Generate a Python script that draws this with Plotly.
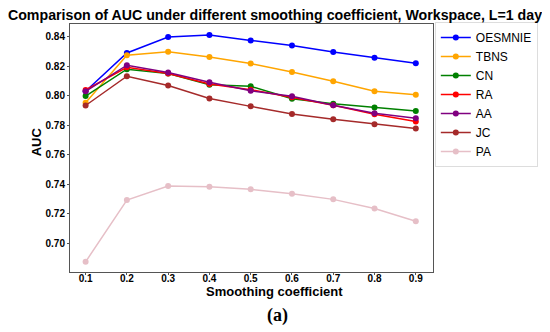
import plotly.graph_objects as go

x_vals = [0.1, 0.2, 0.3, 0.4, 0.5, 0.6, 0.7, 0.8, 0.9]
x_labels = ["0.1", "0.2", "0.3", "0.4", "0.5", "0.6", "0.7", "0.8", "0.9"]

oesmnie = [0.8030, 0.8290, 0.8398, 0.8412, 0.8375, 0.8341, 0.8296, 0.8257, 0.8220]
tbns = [0.7952, 0.8275, 0.8298, 0.8262, 0.8218, 0.8161, 0.8098, 0.8030, 0.8007]
cn = [0.7998, 0.8180, 0.8150, 0.8075, 0.8064, 0.7979, 0.7945, 0.7921, 0.7896]
ra = [0.8039, 0.8193, 0.8150, 0.8080, 0.8041, 0.7990, 0.7936, 0.7875, 0.7825]
aa = [0.8030, 0.8207, 0.8157, 0.8091, 0.8034, 0.7996, 0.7936, 0.7882, 0.7848]
jc = [0.7934, 0.8132, 0.8070, 0.7982, 0.7928, 0.7877, 0.7841, 0.7807, 0.7778]
pa = [0.6875, 0.7293, 0.7389, 0.7384, 0.7366, 0.7336, 0.7298, 0.7236, 0.7150]

y_ticks = [0.70, 0.72, 0.74, 0.76, 0.78, 0.80, 0.82, 0.84]

series = [
    ("OESMNIE", oesmnie, "blue"),
    ("TBNS", tbns, "orange"),
    ("CN", cn, "green"),
    ("RA", ra, "red"),
    ("AA", aa, "purple"),
    ("JC", jc, "brown"),
    ("PA", pa, "#e6bfc7"),
]

font_main = "Liberation Sans"

fig = go.Figure()
for name, vals, col in series:
    fig.add_trace(go.Scatter(
        x=x_vals, y=vals, name=name, mode="lines+markers",
        line=dict(color=col, width=1.5),
        marker=dict(color=col, size=6),
    ))

# The page body has an 8px default margin, so the figure is sized to fit the 550x332 window
fig.update_layout(
    width=542, height=324,
    margin=dict(l=62, r=115, t=16, b=60),
    paper_bgcolor="white", plot_bgcolor="white",
    font=dict(family=font_main, color="black"),
    title=dict(
        text="<b>Comparison of AUC under different smoothing coefficient, Workspace, L=1 day</b>",
        x=0.4926, xref="container", y=0.978, yref="container",
        xanchor="center", yanchor="middle",
        font=dict(size=14.2, family=font_main, color="black"),
    ),
    legend=dict(
        x=1.005, y=1.008, xanchor="left", yanchor="top",
        bordercolor="#dddddd", borderwidth=1,
        font=dict(size=12, family=font_main, color="black"),
        itemwidth=30, tracegroupgap=0,
    ),
    showlegend=True,
)

fig.update_xaxes(
    range=[0.0622, 0.9417],
    tickvals=x_vals, ticktext=["<b>%s</b>" % t for t in x_labels],
    tickfont=dict(size=10),
    showgrid=False, zeroline=False,
    showline=True, linecolor="#555555", linewidth=1, mirror=True,
    ticks="outside", ticklen=2, tickcolor="#555555",
    ticklabelstandoff=-5,
    automargin=False,
)
fig.update_yaxes(
    range=[0.6806, 0.8486],
    tickvals=y_ticks, ticktext=["<b>%.2f</b>" % v for v in y_ticks],
    tickfont=dict(size=10),
    showgrid=False, zeroline=False,
    showline=True, linecolor="#555555", linewidth=1, mirror=True,
    ticks="outside", ticklen=2, tickcolor="#555555",
    automargin=False,
)

# axis titles
fig.add_annotation(
    text="<b>Smoothing coefficient</b>", xref="paper", yref="paper",
    x=0.564, y=-0.078, xanchor="center", yanchor="middle",
    showarrow=False, font=dict(size=13, family=font_main, color="black"),
)
fig.add_annotation(
    text="<b>AUC</b>", xref="paper", yref="paper",
    x=-0.093, y=0.524, xanchor="center", yanchor="middle", textangle=-90,
    showarrow=False, font=dict(size=13, family=font_main, color="black"),
)

fig.add_annotation(
    text="<b>(a)</b>", xref="paper", yref="paper",
    x=0.5726, y=-0.177, xanchor="center", yanchor="middle",
    showarrow=False, font=dict(size=18, family="Liberation Serif", color="black"),
)

fig.write_html("out.html")
